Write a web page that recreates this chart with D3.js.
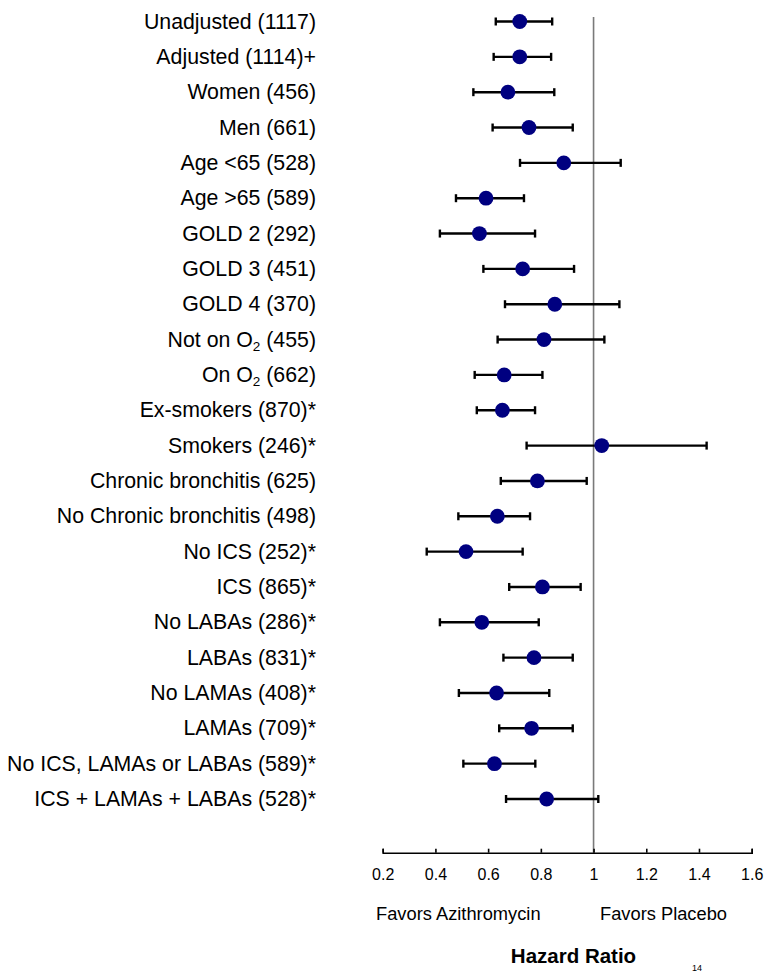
<!DOCTYPE html>
<html>
<head>
<meta charset="utf-8">
<script src="https://cdn.jsdelivr.net/npm/d3@7/dist/d3.min.js"></script>
<style>
  body { margin: 0; background: #fff; }
  svg text { font-family: "Liberation Sans", Arial, sans-serif; fill: #000; }
</style>
</head>
<body>
<div id="chart"></div>
<script>
// subgroups (O2 gets a subscript when drawn)
var labels = [
    "Unadjusted (1117)", "Adjusted (1114)+", "Women (456)", "Men (661)",
    "Age <65 (528)", "Age >65 (589)", "GOLD 2 (292)", "GOLD 3 (451)",
    "GOLD 4 (370)", "Not on O2 (455)", "On O2 (662)", "Ex-smokers (870)*",
    "Smokers (246)*", "Chronic bronchitis (625)", "No Chronic bronchitis (498)",
    "No ICS (252)*", "ICS (865)*", "No LABAs (286)*", "LABAs (831)*",
    "No LAMAs (408)*", "LAMAs (709)*", "No ICS, LAMAs or LABAs (589)*",
    "ICS + LAMAs + LABAs (528)*"
];

// hazard ratio and 95% CI
var hazard = [0.72, 0.72, 0.675, 0.755, 0.887, 0.592, 0.567, 0.731, 0.853, 0.812,
    0.661, 0.654, 1.031, 0.787, 0.635, 0.516, 0.806, 0.576, 0.774, 0.632, 0.765, 0.624, 0.822];
var ciLow = [0.629, 0.621, 0.544, 0.617, 0.721, 0.478, 0.417, 0.582, 0.664, 0.636,
    0.549, 0.557, 0.746, 0.648, 0.487, 0.367, 0.680, 0.417, 0.658, 0.489, 0.642, 0.506, 0.668];
var ciHigh = [0.843, 0.839, 0.851, 0.921, 1.103, 0.736, 0.778, 0.926, 1.098, 1.041,
    0.806, 0.778, 1.429, 0.974, 0.759, 0.731, 0.951, 0.792, 0.921, 0.832, 0.921, 0.779, 1.018];

var xTicks = [0.2, 0.4, 0.6, 0.8, 1, 1.2, 1.4, 1.6];

var data = labels.map(function(d, i) {
    return { label: d, hr: hazard[i], lo: ciLow[i], hi: ciHigh[i] };
});

var width = 764, height = 972;
var axisY = 852.7;

var svg = d3.select("#chart").append("svg")
    .attr("width", width)
    .attr("height", height);

var x = d3.scaleLinear()
    .domain([0.2, 1.6])
    .range([382.7, 751.7]);

var y = d3.scalePoint()
    .domain(labels)
    .range([21.5, 799]);

// reference line at HR = 1
svg.append("line")
    .attr("x1", x(1)).attr("x2", x(1))
    .attr("y1", 17).attr("y2", axisY)
    .attr("stroke", "#7a7a7a")
    .attr("stroke-width", 1.6);

// row labels
var lab = svg.append("g").selectAll("text")
    .data(data)
    .enter().append("text")
    .attr("x", 316)
    .attr("y", function(d) { return y(d.label); })
    .attr("dy", "0.33em")
    .attr("text-anchor", "end")
    .style("font-size", "21.3px");

lab.each(function(d) {
    var t = d3.select(this);
    var k = d.label.indexOf("O2");
    if (k < 0) { t.text(d.label); return; }
    t.append("tspan").text(d.label.slice(0, k + 1));
    t.append("tspan").text("2").attr("dy", 4).style("font-size", "13.5px");
    t.append("tspan").text(d.label.slice(k + 2)).attr("dy", -4);
});

// error bars
var rows = svg.append("g").selectAll("g")
    .data(data)
    .enter().append("g")
    .attr("transform", function(d) { return "translate(0," + y(d.label) + ")"; });

rows.append("line")
    .attr("x1", function(d) { return x(d.lo); })
    .attr("x2", function(d) { return x(d.hi); })
    .attr("stroke", "#000")
    .attr("stroke-width", 2.4);

rows.selectAll(".cap")
    .data(function(d) { return [d.lo, d.hi]; })
    .enter().append("line")
    .attr("class", "cap")
    .attr("x1", function(v) { return x(v); })
    .attr("x2", function(v) { return x(v); })
    .attr("y1", -4).attr("y2", 4)
    .attr("stroke", "#000")
    .attr("stroke-width", 2.4);

rows.append("circle")
    .attr("cx", function(d) { return x(d.hr); })
    .attr("r", 7.4)
    .attr("fill", "#000080");

// x axis, ticks pointing up
var xAxis = d3.axisBottom(x)
    .tickValues(xTicks)
    .tickFormat(function(d) { return String(d); })
    .tickSizeInner(-4)
    .tickSizeOuter(-4)
    .tickPadding(16);

var ax = svg.append("g")
    .attr("transform", "translate(0," + axisY + ")")
    .call(xAxis);

ax.select(".domain").attr("stroke", "#000").attr("stroke-width", 1.6);
ax.selectAll(".tick line").attr("stroke", "#000").attr("stroke-width", 1.6);
ax.selectAll(".tick text")
    .attr("fill", "#000")
    .style("font-size", "16px")
    .style("font-family", "Liberation Sans, Arial, sans-serif");

svg.append("text")
    .attr("x", 376)
    .attr("y", 920)
    .style("font-size", "18.3px")
    .text("Favors Azithromycin");

svg.append("text")
    .attr("x", 600)
    .attr("y", 920)
    .style("font-size", "18.3px")
    .text("Favors Placebo");

svg.append("text")
    .attr("x", 573.5)
    .attr("y", 963)
    .attr("text-anchor", "middle")
    .style("font-size", "20.5px")
    .style("font-weight", "bold")
    .text("Hazard Ratio");

// page number at the bottom edge
svg.append("text")
    .attr("x", 692)
    .attr("y", 971)
    .style("font-size", "9px")
    .text("14");
</script>
</body>
</html>
